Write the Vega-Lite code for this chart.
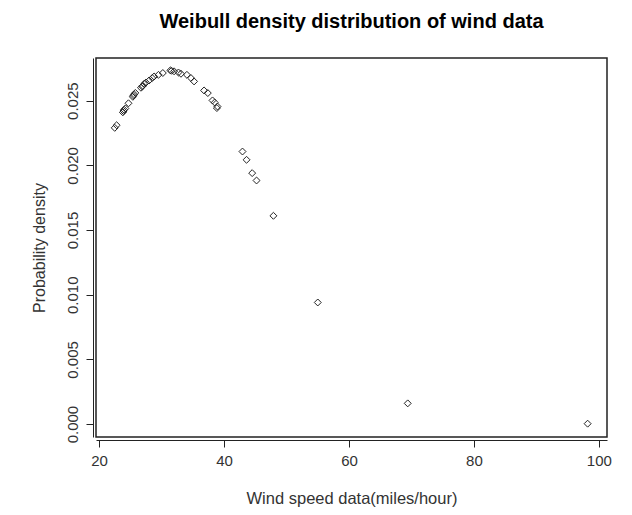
{
  "$schema": "https://vega.github.io/schema/vega-lite/v6.json",
  "width": 511,
  "height": 379,
  "autosize": {"type": "none"},
  "padding": {"left": 96, "top": 58, "right": 25, "bottom": 78},
  "background": "white",
  "title": {
    "text": "Weibull density distribution of wind data",
    "font": "Liberation Sans",
    "fontSize": 20,
    "fontWeight": "bold",
    "color": "black",
    "anchor": "middle",
    "baseline": "alphabetic",
    "offset": 10
  },
  "data": {
    "values": [
      {"speed": 22.5, "density": 0.0229},
      {"speed": 22.8, "density": 0.0231},
      {"speed": 23.8, "density": 0.0241},
      {"speed": 23.9, "density": 0.0242},
      {"speed": 24.0, "density": 0.0243},
      {"speed": 24.2, "density": 0.0244},
      {"speed": 24.7, "density": 0.0248},
      {"speed": 25.4, "density": 0.0253},
      {"speed": 25.5, "density": 0.0254},
      {"speed": 25.6, "density": 0.0255},
      {"speed": 25.8, "density": 0.0256},
      {"speed": 26.7, "density": 0.0260},
      {"speed": 26.9, "density": 0.0261},
      {"speed": 27.0, "density": 0.02615},
      {"speed": 27.2, "density": 0.0263},
      {"speed": 27.5, "density": 0.0264},
      {"speed": 28.0, "density": 0.02656},
      {"speed": 28.5, "density": 0.02675},
      {"speed": 28.8, "density": 0.02687},
      {"speed": 29.5, "density": 0.0270},
      {"speed": 30.2, "density": 0.02714},
      {"speed": 31.4, "density": 0.02734},
      {"speed": 31.6, "density": 0.02731},
      {"speed": 32.0, "density": 0.02727},
      {"speed": 32.7, "density": 0.02718},
      {"speed": 33.1, "density": 0.02708},
      {"speed": 34.05, "density": 0.0270},
      {"speed": 34.7, "density": 0.02675},
      {"speed": 35.2, "density": 0.02649},
      {"speed": 36.8, "density": 0.02579},
      {"speed": 37.4, "density": 0.02559},
      {"speed": 38.15, "density": 0.02502},
      {"speed": 38.5, "density": 0.02486},
      {"speed": 38.85, "density": 0.02443},
      {"speed": 38.95, "density": 0.02455},
      {"speed": 42.95, "density": 0.02107},
      {"speed": 43.6, "density": 0.02043},
      {"speed": 44.5, "density": 0.0194},
      {"speed": 45.2, "density": 0.01883},
      {"speed": 47.9, "density": 0.0161},
      {"speed": 55.0, "density": 0.0094},
      {"speed": 69.4, "density": 0.0016},
      {"speed": 98.2, "density": 0.00003}
    ]
  },
  "mark": {
    "type": "point",
    "shape": "diamond",
    "filled": false,
    "size": 48,
    "stroke": "#222222",
    "strokeWidth": 1,
    "opacity": 1
  },
  "encoding": {
    "x": {
      "field": "speed",
      "type": "quantitative",
      "scale": {"domain": [19.5, 101.3], "nice": false, "zero": false},
      "axis": {
        "title": "Wind speed data(miles/hour)",
        "values": [20, 40, 60, 80, 100],
        "grid": false,
        "domain": true,
        "domainColor": "#222222",
        "domainWidth": 1,
        "offset": 3,
        "tickSize": 7,
        "tickColor": "#222222",
        "labelPadding": 6,
        "labelFont": "Liberation Sans",
        "labelFontSize": 15,
        "labelColor": "#333333",
        "titleFont": "Liberation Sans",
        "titleFontSize": 16.5,
        "titleFontWeight": "normal",
        "titleColor": "#333333",
        "titlePadding": 22
      }
    },
    "y": {
      "field": "density",
      "type": "quantitative",
      "scale": {"domain": [-0.001, 0.0283], "nice": false, "zero": false},
      "axis": {
        "title": "Probability density",
        "values": [0, 0.005, 0.01, 0.015, 0.02, 0.025],
        "format": ".3f",
        "grid": false,
        "domain": true,
        "domainColor": "#222222",
        "offset": 3,
        "tickSize": 7,
        "tickColor": "#222222",
        "labelAngle": -90,
        "labelAlign": "center",
        "labelBaseline": "bottom",
        "labelPadding": 6,
        "labelFont": "Liberation Sans",
        "labelFontSize": 15,
        "labelColor": "#333333",
        "titleFont": "Liberation Sans",
        "titleFontSize": 16,
        "titleFontWeight": "normal",
        "titleColor": "#333333",
        "titlePadding": 18
      }
    }
  },
  "config": {
    "view": {"stroke": "#222222", "strokeWidth": 1.5}
  }
}
